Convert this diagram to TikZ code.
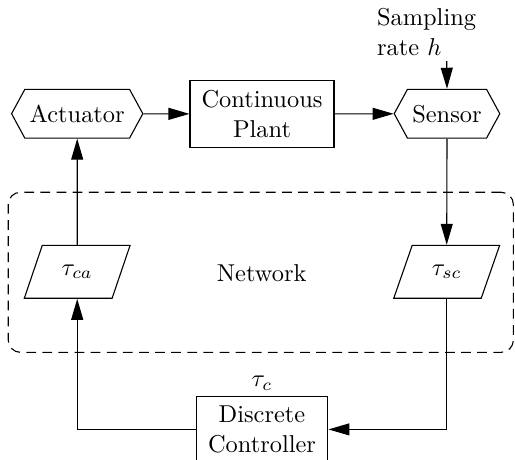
\documentclass[tikz,border=0pt]{standalone}
\usetikzlibrary{shapes.geometric,shapes.symbols,arrows.meta}

\tikzset{
  block/.style={draw, rectangle, align=center, inner sep=2pt},
  hexbox/.style={draw, signal, signal to=west and east, signal pointer angle=123,
    minimum height=20pt, inner sep=2pt},
  delaybox/.style={draw, trapezium, trapezium left angle=64, trapezium right angle=116,
    trapezium stretches=true, minimum width=43.4pt, minimum height=21.7pt, inner sep=1pt},
  netbox/.style={draw, dash pattern=on 4pt off 2.6pt, rounded corners=5pt},
  flow/.style={-{Triangle[length=8.6pt,width=4.9pt]}},
}

\begin{document}
\begin{tikzpicture}[x=0.4098pt,y=-0.4098pt, line width=0.45pt]
\useasboundingbox (0,0) rectangle (515,459);

% network region
\node[netbox, minimum width=207pt, minimum height=65.6pt] (net) at (260.8,272.3) {};
\node (nettext) at (261.7,273) {Network};

% plant-side blocks
\node[hexbox, minimum width=52.9pt] (act) at (77.2,113.7) {Actuator};
\node[block, minimum width=59pt, minimum height=27.3pt] (plant) at (262,114) {Continuous\\Plant};
\node[hexbox, minimum width=42.6pt] (sens) at (447,113.7) {Sensor};

% sampling input
\node[align=left, anchor=north west, inner sep=0pt] (samp) at (376.5,8) {Sampling\\rate $h$};
\coordinate (sampin) at (446.7,61);

% network delays
\node[delaybox] (tca) at (77.2,271.8) {$\tau_{ca}$};
\node[delaybox] (tsc) at (446.7,271.8) {$\tau_{sc}$};

% controller
\node[block, minimum width=54pt, minimum height=27.3pt] (ctrl) at (262,429.4) {Discrete\\Controller};
\node[anchor=south, inner sep=2pt] (tauc) at (ctrl.north) {$\tau_c$};

% signal flow
\draw[flow] (act) -- (plant);
\draw[flow] (plant) -- (sens);
\draw[flow] (sampin) -- (sens.north);
\draw[flow] (sens.south) -- (tsc.north);
\draw[flow] (tsc.south) |- (ctrl.east);
\draw[flow] (ctrl.west) -| (tca.south);
\draw[flow] (tca.north) -- (act.south);
\end{tikzpicture}
\end{document}
